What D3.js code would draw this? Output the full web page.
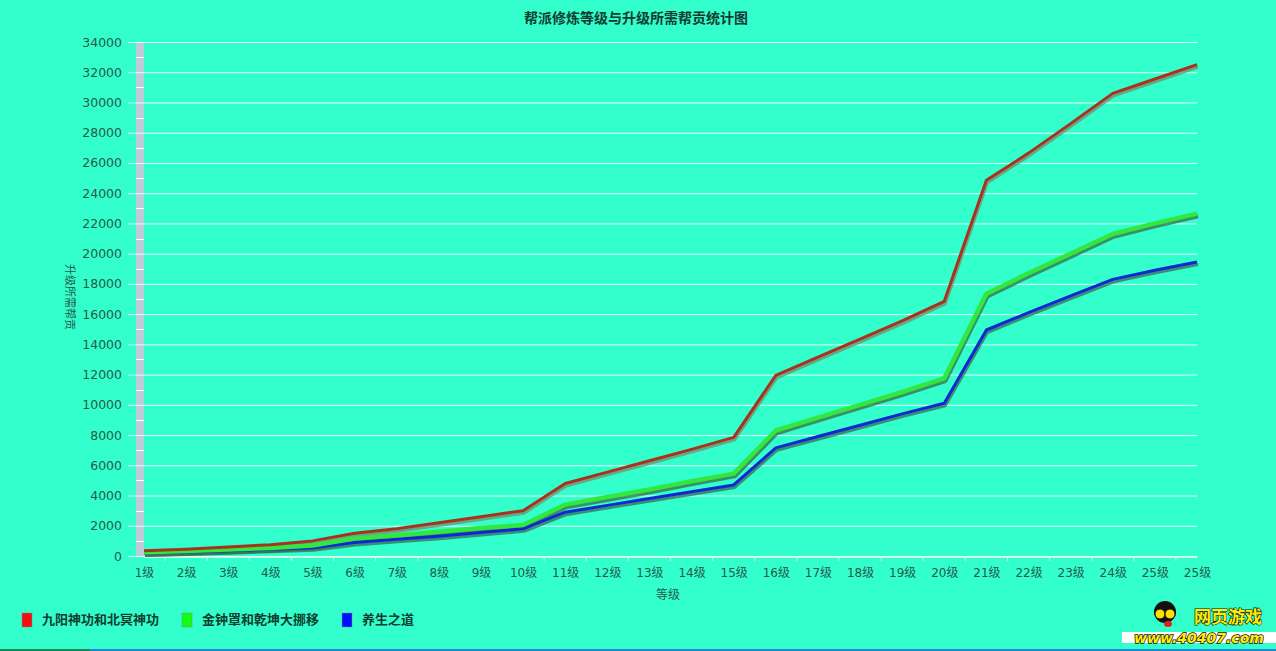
<!DOCTYPE html>
<html><head><meta charset="utf-8">
<script src="https://cdn.jsdelivr.net/npm/d3@7/dist/d3.min.js"></script>
<style>
html,body{margin:0;padding:0;background:#33ffcc;}
svg{display:block;}
text{font-family:"DejaVu Sans","Noto Sans CJK SC",sans-serif;}
</style></head>
<body>
<svg id="c" width="1276" height="651"></svg>
<script>
const title = "帮派修炼等级与升级所需帮贡统计图";
const xTitle = "等级";
const yTitle = "升级所需帮贡";
const levels = ["1级","2级","3级","4级","5级","6级","7级","8级","9级","10级","11级","12级","13级","14级","15级","16级","17级","18级","19级","20级","21级","22级","23级","24级","25级","25级"];
const seriesNames = ["九阳神功和北冥神功","金钟罩和乾坤大挪移","养生之道"];
const redValues = [350,450,600,750,1000,1500,1800,2200,2600,3000,4800,5550,6300,7050,7850,11950,13150,14350,15550,16850,24850,26650,28600,30600,31550,32500];
const greenValues = [250,330,430,530,700,1150,1350,1600,1850,2050,3400,3900,4400,4950,5450,8300,9150,10000,10850,11750,17350,18700,20000,21300,22000,22650];
const blueValues = [200,260,350,450,550,900,1100,1300,1550,1800,2900,3350,3800,4250,4700,7150,7900,8650,9400,10100,14950,16100,17200,18300,18900,19450];
const yTicks = [0,2000,4000,6000,8000,10000,12000,14000,16000,18000,20000,22000,24000,26000,28000,30000,32000,34000];

(function(){
const svg = d3.select("#c");
const W = 1276, H = 651;
const pL = 144, pR = 1197, pT = 42, pB = 556;

svg.append("rect").attr("width",W).attr("height",H).attr("fill","#33ffcc");

const x = d3.scalePoint().domain(d3.range(levels.length)).range([pL,pR]);
const y = d3.scaleLinear().domain([0,34000]).range([pB,pT]);

svg.append("text").attr("x",636).attr("y",23).attr("text-anchor","middle")
  .attr("font-size",14).attr("font-weight","bold").attr("fill","#123c30")
  .style("font-family","'Noto Sans CJK SC',sans-serif").text(title);

svg.append("rect").attr("x",136).attr("y",pT).attr("width",8).attr("height",pB-pT).attr("fill","#bfcad8");

const yAxis = d3.axisLeft(y).tickValues(yTicks).tickSize(-(pR-128)).tickPadding(6).tickFormat(d3.format("d"));
const gy = svg.append("g").attr("transform",`translate(128,0)`).call(yAxis);
gy.select(".domain").remove();
gy.selectAll(".tick line").attr("stroke","#e8fff8").attr("stroke-width",1).attr("opacity",0.95);
gy.selectAll(".tick text").attr("font-size",12.5).attr("fill","#245a4c").attr("x",-6)
  .style("font-family","'DejaVu Sans',sans-serif");

const minor = d3.range(1000,34000,2000);
svg.append("g").selectAll("line").data(minor).join("line")
  .attr("x1",136).attr("x2",144).attr("y1",d=>Math.round(y(d))+0.5).attr("y2",d=>Math.round(y(d))+0.5)
  .attr("stroke","#ffffff").attr("stroke-width",1);

const xAxis = d3.axisBottom(x).tickFormat(i=>levels[i]).tickSize(0).tickPadding(11);
const gx = svg.append("g").attr("transform",`translate(0,${pB+1})`).call(xAxis);
gx.select(".domain").attr("stroke","#c8f5ea").attr("stroke-width",1);
gx.selectAll(".tick text").attr("font-size",12).attr("fill","#245a4c")
  .style("font-family","'DejaVu Sans','Noto Sans CJK SC',sans-serif");
svg.append("g").selectAll("line").data(d3.range(levels.length-1)).join("line")
  .attr("x1",i=>(x(i)+x(i+1))/2).attr("x2",i=>(x(i)+x(i+1))/2)
  .attr("y1",pB+1).attr("y2",pB+5).attr("stroke","#c8f5ea").attr("stroke-width",1);

svg.append("text").attr("x",668).attr("y",599).attr("text-anchor","middle").attr("font-size",12)
  .attr("fill","#245a4c").style("font-family","'Noto Sans CJK SC',sans-serif").text(xTitle);
svg.append("text").attr("transform","translate(66,297) rotate(90)").attr("text-anchor","middle")
  .attr("font-size",11).attr("fill","#245a4c").style("font-family","'Noto Sans CJK SC',sans-serif").text(yTitle);

const line = d3.line().x((d,i)=>x(i)).y(d=>y(d));
const series = [
  {v:blueValues, c:"#1028d0", w:3, sh:"#3a6a5a"},
  {v:greenValues, c:"#30e840", w:4.5, sh:"#3d6a4a"},
  {v:redValues, c:"#a8321e", w:3, sh:"#7a8a6e"}
];
series.forEach(s=>{
  svg.append("path").datum(s.v).attr("d",line).attr("fill","none")
    .attr("stroke",s.sh).attr("stroke-width",s.w).attr("stroke-linejoin","round")
    .attr("opacity",0.75).attr("transform","translate(1,2.5)");
});
series.forEach(s=>{
  svg.append("path").datum(s.v).attr("d",line).attr("fill","none")
    .attr("stroke",s.c).attr("stroke-width",s.w).attr("stroke-linejoin","round");
});

const legColors = ["#f01010","#10ff10","#0010ff"];
const legX = [22,182,342];
seriesNames.forEach((n,i)=>{
  svg.append("rect").attr("x",legX[i]).attr("y",613).attr("width",10).attr("height",14)
    .attr("fill",legColors[i]).attr("stroke","#7a8a7a").attr("stroke-width",0.5);
  svg.append("text").attr("x",legX[i]+20).attr("y",624).attr("font-size",13).attr("font-weight","bold")
    .attr("fill","#123c30").style("font-family","'Noto Sans CJK SC',sans-serif").text(n);
});

svg.append("rect").attr("x",0).attr("y",649).attr("width",90).attr("height",2).attr("fill","#1a8a5a");
svg.append("rect").attr("x",90).attr("y",649).attr("width",W-90).attr("height",2).attr("fill","#1c8ad8");

const logo = svg.append("g");
logo.append("rect").attr("x",1122).attr("y",632).attr("width",154).attr("height",11).attr("fill","#ffffff");
logo.append("circle").attr("cx",1165).attr("cy",612).attr("r",11).attr("fill","#111");
logo.append("circle").attr("cx",1160).attr("cy",614).attr("r",5).attr("fill","#ffe000").attr("stroke","#111");
logo.append("circle").attr("cx",1170).attr("cy",614).attr("r",5).attr("fill","#ffe000").attr("stroke","#111");
logo.append("ellipse").attr("cx",1168).attr("cy",624).attr("rx",4).attr("ry",3).attr("fill","#e02020");
logo.append("text").attr("x",1228).attr("y",623).attr("text-anchor","middle").attr("font-size",17)
  .attr("font-weight","bold").attr("fill","#ffee00").attr("stroke","#111").attr("stroke-width",1.2)
  .attr("paint-order","stroke").style("font-family","'Noto Sans CJK SC',sans-serif").text("网页游戏");
logo.append("text").attr("x",1199).attr("y",643).attr("text-anchor","middle").attr("font-size",14)
  .attr("font-weight","bold").attr("font-style","italic").attr("fill","#ffee00").attr("stroke","#111").attr("stroke-width",1.5)
  .attr("paint-order","stroke").style("font-family","'DejaVu Sans',sans-serif").text("www.40407.com");
})();
</script>
</body></html>
